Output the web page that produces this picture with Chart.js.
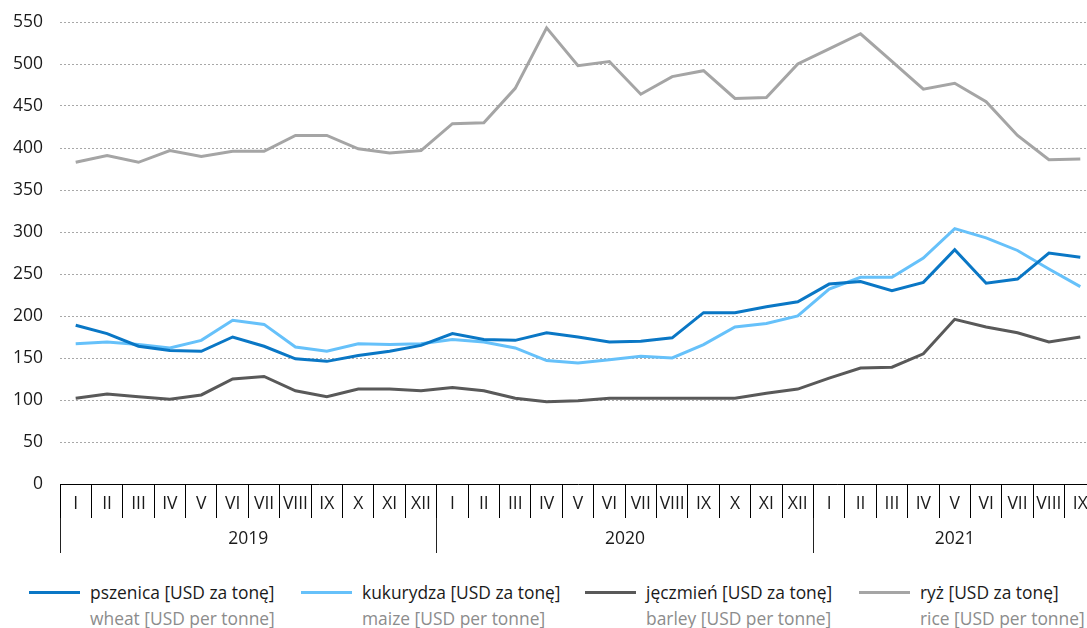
<!DOCTYPE html>
<html lang="pl">
<head>
<meta charset="utf-8">
<title>Ceny zbóż</title>
<script src="https://cdn.jsdelivr.net/npm/chart.js@4"></script>
<style>
  html, body { margin: 0; padding: 0; background: #fff; overflow: hidden; }
  #wrap { position: relative; width: 1087px; height: 628px; overflow: hidden; }
  #prices { position: absolute; left: 0; top: 0; }
  #legend {
    position: absolute; left: 29px; top: 579px;
    display: grid; grid-template-columns: 272px 284px 274px auto;
    font-family: 'Open Sans', sans-serif; font-size: 17.4px; line-height: 26px;
  }
  .item { display: flex; align-items: flex-start; }
  .swatch { flex: none; width: 51px; height: 3px; margin: 12px 10px 0 0; }
  .pl { color: #1a1a1a; white-space: nowrap; }
  .en { color: #8c8c8c; white-space: nowrap; }
</style>
</head>
<body>
<div id="wrap">
  <canvas id="prices" width="1096" height="560"></canvas>
  <div id="legend"></div>
</div>
<script>
// months and years on the x axis
const monthNames = ['I', 'II', 'III', 'IV', 'V', 'VI', 'VII', 'VIII', 'IX', 'X', 'XI', 'XII'];
const years = ['2019', '2020', '2021'];
const monthsInYear = [12, 12, 9];

// monthly prices, USD per tonne, I 2019 - IX 2021
const wheat = [189, 179, 164, 159, 158, 175, 164, 149, 146, 153, 158, 165,
               179, 172, 171, 180, 175, 169, 170, 174, 204, 204, 211, 217,
               238, 241, 230, 240, 279, 239, 244, 275, 270];
const maize = [167, 169, 166, 162, 171, 195, 190, 163, 158, 167, 166, 167,
               172, 169, 162, 147, 144, 148, 152, 150, 166, 187, 191, 200,
               232, 246, 246, 269, 304, 293, 278, 256, 235];
const barley = [102, 107, 104, 101, 106, 125, 128, 111, 104, 113, 113, 111,
                115, 111, 102, 98, 99, 102, 102, 102, 102, 102, 108, 113,
                126, 138, 139, 155, 196, 187, 180, 169, 175];
const rice = [383, 391, 383, 397, 390, 396, 396, 415, 415, 399, 394, 397,
              429, 430, 471, 543, 498, 503, 464, 485, 492, 459, 460, 500,
              518, 536, 503, 470, 477, 455, 415, 386, 387];

const seriesNames = ['pszenica [USD za tonę]', 'kukurydza [USD za tonę]', 'jęczmień [USD za tonę]', 'ryż [USD za tonę]'];
const seriesNamesEn = ['wheat [USD per tonne]', 'maize [USD per tonne]', 'barley [USD per tonne]', 'rice [USD per tonne]'];
const seriesColors = ['#0a77c5', '#66c1fa', '#595959', '#a5a5a5'];
const seriesValues = [wheat, maize, barley, rice];

// month labels, plus year boundaries and year label centres (in month units)
const labels = [];
const yearEdges = [];
const yearCenters = [];
years.forEach((y, i) => {
    const start = labels.length;
    yearEdges.push(start);
    yearCenters.push(start + monthsInYear[i] / 2);
    monthNames.slice(0, monthsInYear[i]).forEach(m => labels.push(m));
});

Chart.defaults.font.family = "'Open Sans', sans-serif";
const tickFont = { size: 17.5 };
const tickColor = '#1a1a1a';

// legend with Polish and English names under each other
const htmlLegend = {
    id: 'htmlLegend',
    afterUpdate(chart) {
        const box = document.getElementById('legend');
        box.innerHTML = '';
        chart.data.datasets.forEach((ds, i) => {
            const item = document.createElement('div');
            item.className = 'item';
            const swatch = document.createElement('span');
            swatch.className = 'swatch';
            swatch.style.background = ds.borderColor;
            const text = document.createElement('div');
            const pl = document.createElement('div');
            pl.className = 'pl';
            pl.textContent = ds.label;
            const en = document.createElement('div');
            en.className = 'en';
            en.textContent = seriesNamesEn[i];
            text.appendChild(pl);
            text.appendChild(en);
            item.appendChild(swatch);
            item.appendChild(text);
            box.appendChild(item);
        });
    }
};

new Chart(document.getElementById('prices'), {
    type: 'line',
    data: {
        labels: labels,
        datasets: seriesValues.map((values, i) => ({
            label: seriesNames[i],
            data: values,
            borderColor: seriesColors[i],
            backgroundColor: seriesColors[i],
            borderWidth: 3,
            pointRadius: 0,
            tension: 0
        }))
    },
    options: {
        responsive: false,
        animation: false,
        layout: { padding: { top: 22, right: 0, bottom: 0, left: 0 } },
        plugins: {
            legend: { display: false },
            tooltip: { enabled: false }
        },
        scales: {
            y: {
                min: 0,
                max: 550,
                // invisible tick marks push the labels away from the plot
                ticks: { stepSize: 50, padding: 11, font: tickFont, color: tickColor },
                grid: { color: '#a8a8a8', lineWidth: 1, drawTicks: true, tickLength: 6, tickColor: 'rgba(0,0,0,0)' },
                border: { display: false, dash: [2, 2] },
                afterFit: s => { s.width = 60; }
            },
            x: {
                offset: true,
                ticks: { autoSkip: false, maxRotation: 0, minRotation: 0, padding: -24.5, font: tickFont, color: tickColor },
                grid: { offset: true, drawOnChartArea: false, color: '#000', lineWidth: 1, tickLength: 34 },
                border: { display: true, color: '#000', width: 1 },
                afterFit: s => { s.height = 34; }
            },
            years: {
                type: 'linear',
                position: 'bottom',
                weight: 1,
                min: 0,
                max: labels.length,
                offset: false,
                afterBuildTicks: s => {
                    s.ticks = yearEdges.concat(yearCenters).sort((a, b) => a - b).map(v => ({ value: v }));
                },
                ticks: {
                    autoSkip: false, maxRotation: 0, minRotation: 0, padding: -24.5,
                    font: tickFont, color: tickColor,
                    callback: v => {
                        const i = yearCenters.indexOf(v);
                        return i >= 0 ? years[i] : '';
                    }
                },
                grid: {
                    drawOnChartArea: false,
                    tickLength: 35,
                    lineWidth: 1,
                    color: ctx => (ctx.tick && yearEdges.includes(ctx.tick.value)) ? '#222' : 'rgba(0,0,0,0)'
                },
                border: { display: false },
                afterFit: s => { s.height = 42; }
            }
        }
    },
    plugins: [htmlLegend]
});
</script>
</body>
</html>
